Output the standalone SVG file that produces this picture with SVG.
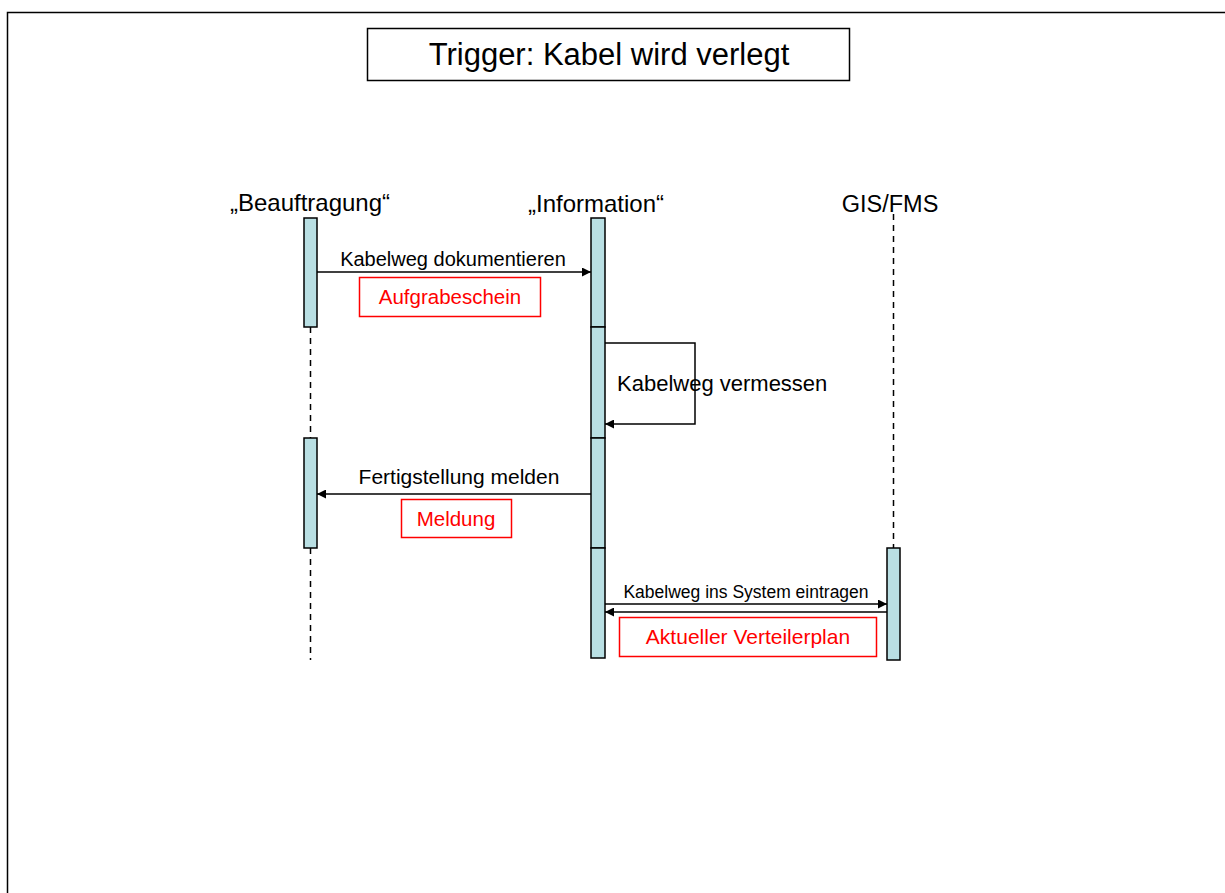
<svg xmlns="http://www.w3.org/2000/svg" width="1225" height="893" viewBox="0 0 1225 893">
<defs>
<style>
.t{font-family:"Liberation Sans",Arial,sans-serif;fill:#000}
.r{font-family:"Liberation Sans",Arial,sans-serif;fill:#ff0000}
.bar{fill:#b9dfe3;stroke:#000;stroke-width:1.5}
.life{stroke:#000;stroke-width:1.5;stroke-dasharray:6,5;fill:none}
.msg{stroke:#000;stroke-width:1.5;fill:none}
.rbox{fill:#fff;stroke:#ff0000;stroke-width:1.5}
</style>
<marker id="ah" viewBox="0 0 10 10" refX="10" refY="5" markerWidth="13" markerHeight="9" markerUnits="userSpaceOnUse" orient="auto">
<path d="M0,0 L10,5 L0,10 z" fill="#000"/>
</marker>
</defs>
<rect x="0" y="0" width="1225" height="893" fill="#fff"/>
<path d="M7.5,893 V12.5 H1225" fill="none" stroke="#000" stroke-width="1.5"/>
<g id="title">
<rect x="367.5" y="28.5" width="482" height="52" fill="#fff" stroke="#000" stroke-width="1.5"/>
<text class="t" x="609" y="65" font-size="31" text-anchor="middle">Trigger: Kabel wird verlegt</text>
</g>
<g id="connectors">
<line class="life" x1="310.5" y1="327" x2="310.5" y2="438"/>
<line class="life" x1="310.5" y1="548" x2="310.5" y2="660"/>
<line class="life" x1="893.5" y1="214" x2="893.5" y2="548"/>
<line class="msg" x1="317" y1="272" x2="591" y2="272" marker-end="url(#ah)"/>
<polyline class="msg" points="605,343 695,343 695,424 605,424" marker-end="url(#ah)"/>
<line class="msg" x1="591" y1="494" x2="317" y2="494" marker-end="url(#ah)"/>
<line class="msg" x1="605" y1="604" x2="887" y2="604" marker-end="url(#ah)"/>
<line class="msg" x1="887" y1="612" x2="605" y2="612" marker-end="url(#ah)"/>
</g>
<g id="beauftragung">
<text class="t" x="310" y="211" font-size="24" text-anchor="middle">„Beauftragung“</text>
<rect class="bar" x="304" y="218" width="13" height="109"/>
<rect class="bar" x="304" y="438" width="13" height="110"/>
</g>
<g id="information">
<text class="t" x="596" y="212" font-size="24" text-anchor="middle">„Information“</text>
<rect class="bar" x="591" y="218" width="14" height="109"/>
<rect class="bar" x="591" y="327" width="14" height="111"/>
<rect class="bar" x="591" y="438" width="14" height="110"/>
<rect class="bar" x="591" y="548" width="14" height="110"/>
</g>
<g id="gisfms">
<text class="t" x="890" y="212" font-size="23.5" text-anchor="middle">GIS/FMS</text>
<rect class="bar" x="887" y="548" width="13" height="112"/>
</g>
<g id="labels">
<text class="t" x="453" y="266" font-size="20" text-anchor="middle">Kabelweg dokumentieren</text>
<text class="t" x="617" y="391" font-size="22">Kabelweg vermessen</text>
<text class="t" x="459" y="484" font-size="21" text-anchor="middle">Fertigstellung melden</text>
<text class="t" x="746" y="598" font-size="17.5" text-anchor="middle">Kabelweg ins System eintragen</text>
</g>
<g id="aufgrabeschein">
<rect class="rbox" x="359.5" y="277.5" width="181" height="39"/>
<text class="r" x="450" y="304" font-size="20.5" text-anchor="middle">Aufgrabeschein</text>
</g>
<g id="meldung">
<rect class="rbox" x="401.5" y="499.5" width="110" height="38"/>
<text class="r" x="456" y="526" font-size="20.5" text-anchor="middle">Meldung</text>
</g>
<g id="verteilerplan">
<rect class="rbox" x="619.5" y="617.5" width="257" height="39"/>
<text class="r" x="748" y="644" font-size="21" text-anchor="middle">Aktueller Verteilerplan</text>
</g>
</svg>
